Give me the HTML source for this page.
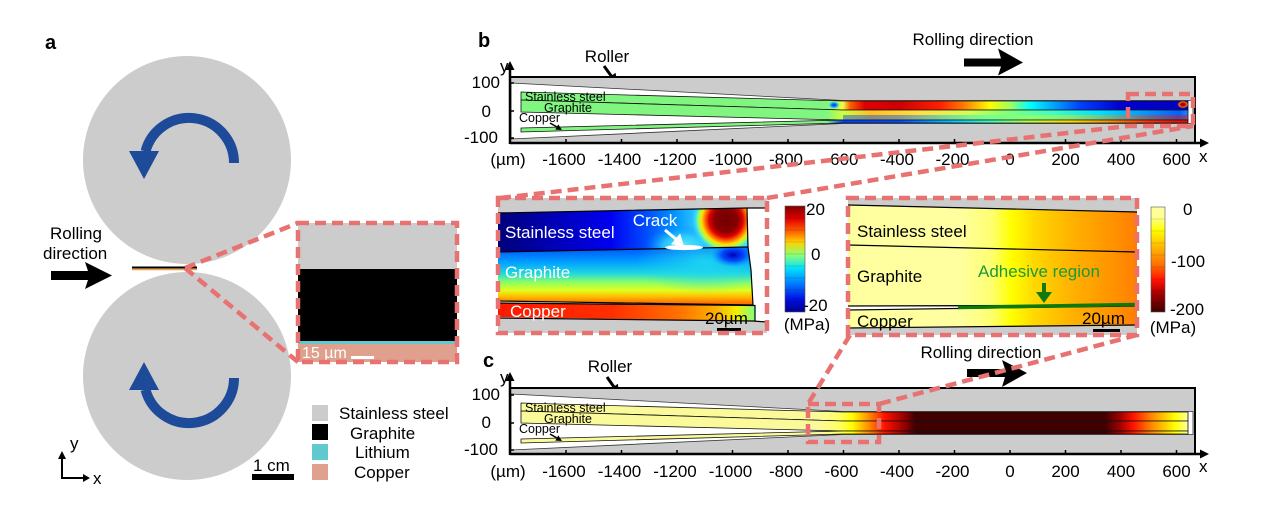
<!DOCTYPE html>
<html><head><meta charset="utf-8"><style>
html,body{margin:0;padding:0;background:#fff;}
svg{display:block;}
text{font-family:"Liberation Sans",Arial,sans-serif;fill:#000;}
</style></head><body>
<svg width="1268" height="525" viewBox="0 0 1268 525" xmlns="http://www.w3.org/2000/svg">
<defs>
  <linearGradient id="gSS" gradientUnits="userSpaceOnUse" x1="500" y1="0" x2="1200" y2="0">
    <stop offset="0" stop-color="#80f580"/><stop offset=".466" stop-color="#80f580"/>
    <stop offset=".49" stop-color="#f0ff40"/><stop offset=".5" stop-color="#ff6000"/>
    <stop offset=".521" stop-color="#e00000"/><stop offset=".571" stop-color="#d00000"/>
    <stop offset=".629" stop-color="#ff2000"/><stop offset=".664" stop-color="#ff8000"/>
    <stop offset=".7" stop-color="#ffff00"/><stop offset=".729" stop-color="#a0ff60"/>
    <stop offset=".757" stop-color="#00ffff"/><stop offset=".793" stop-color="#00a0ff"/>
    <stop offset=".829" stop-color="#0040ff"/><stop offset=".886" stop-color="#0000d0"/>
    <stop offset="1" stop-color="#0000c0"/>
  </linearGradient>
  <linearGradient id="gGr" gradientUnits="userSpaceOnUse" x1="500" y1="0" x2="1200" y2="0">
    <stop offset="0" stop-color="#80f580"/><stop offset=".466" stop-color="#80f580"/>
    <stop offset=".49" stop-color="#d0ff40"/><stop offset=".53" stop-color="#ffc020"/>
    <stop offset=".6" stop-color="#ffe040"/><stop offset=".671" stop-color="#d0ff50"/>
    <stop offset=".714" stop-color="#90ff70"/><stop offset=".786" stop-color="#40ffc0"/>
    <stop offset=".857" stop-color="#00e0ff"/><stop offset=".929" stop-color="#0090ff"/>
    <stop offset=".97" stop-color="#0060ff"/><stop offset="1" stop-color="#40c0ff"/>
  </linearGradient>
  <linearGradient id="gCu" gradientUnits="userSpaceOnUse" x1="500" y1="0" x2="1200" y2="0">
    <stop offset="0" stop-color="#80f580"/><stop offset=".466" stop-color="#80f580"/>
    <stop offset=".49" stop-color="#0040ff"/><stop offset=".571" stop-color="#0050ff"/>
    <stop offset=".643" stop-color="#00c0ff"/><stop offset=".7" stop-color="#40ffc0"/>
    <stop offset=".757" stop-color="#c0ff40"/><stop offset=".814" stop-color="#ffe000"/>
    <stop offset=".871" stop-color="#ff9000"/><stop offset=".929" stop-color="#ff3000"/>
    <stop offset="1" stop-color="#e00000"/>
  </linearGradient>
  <linearGradient id="gC" gradientUnits="userSpaceOnUse" x1="500" y1="0" x2="1200" y2="0">
    <stop offset="0" stop-color="#fafa9a"/><stop offset=".457" stop-color="#fafa9a"/>
    <stop offset=".486" stop-color="#ffff60"/><stop offset=".503" stop-color="#ffff00"/>
    <stop offset=".526" stop-color="#ff9000"/><stop offset=".55" stop-color="#ff1000"/>
    <stop offset=".579" stop-color="#900000"/><stop offset=".593" stop-color="#400000"/>
    <stop offset=".864" stop-color="#400000"/><stop offset=".886" stop-color="#a00000"/>
    <stop offset=".904" stop-color="#ff1000"/><stop offset=".929" stop-color="#ff8000"/>
    <stop offset=".964" stop-color="#ffff00"/><stop offset=".983" stop-color="#ffffa0"/>
    <stop offset="1" stop-color="#ffffa0"/>
  </linearGradient>
  <radialGradient id="rBlue" cx="0.5" cy="0.5" r="0.5">
    <stop offset="0" stop-color="#0020e0"/><stop offset=".5" stop-color="#00a0ff"/><stop offset="1" stop-color="#40e0ff" stop-opacity="0"/>
  </radialGradient>
  <radialGradient id="rRed" cx="0.5" cy="0.5" r="0.5">
    <stop offset="0" stop-color="#700000"/><stop offset=".4" stop-color="#d00000"/><stop offset=".7" stop-color="#ff8000"/><stop offset="1" stop-color="#0000c0" stop-opacity="0"/>
  </radialGradient>
  <!-- inset 1 -->
  <linearGradient id="i1SS" gradientUnits="userSpaceOnUse" x1="498" y1="0" x2="748" y2="0">
    <stop offset="0" stop-color="#00007a"/><stop offset=".2" stop-color="#0000b0"/>
    <stop offset=".45" stop-color="#0000f0"/><stop offset=".6" stop-color="#0050ff"/>
    <stop offset=".7" stop-color="#0090ff"/><stop offset=".8" stop-color="#30c8ff"/>
    <stop offset="1" stop-color="#50e0f0"/>
  </linearGradient>
  <radialGradient id="i1Blob" gradientUnits="userSpaceOnUse" cx="726" cy="220" r="34">
    <stop offset="0" stop-color="#700000"/><stop offset=".35" stop-color="#8a0000"/>
    <stop offset=".5" stop-color="#e00000"/><stop offset=".62" stop-color="#ff7000"/>
    <stop offset=".72" stop-color="#ffe000"/><stop offset=".82" stop-color="#90ff70"/>
    <stop offset=".92" stop-color="#30e0ff" stop-opacity=".7"/><stop offset="1" stop-color="#30e0ff" stop-opacity="0"/>
  </radialGradient>
  <radialGradient id="i1Cy" gradientUnits="userSpaceOnUse" cx="682" cy="246" r="38" gradientTransform="translate(682 246) scale(1 0.55) translate(-682 -246)">
    <stop offset="0" stop-color="#60f0f0"/><stop offset=".5" stop-color="#30d0ff" stop-opacity=".8"/><stop offset="1" stop-color="#0080ff" stop-opacity="0"/>
  </radialGradient>
  <radialGradient id="i1Dk" gradientUnits="userSpaceOnUse" cx="733" cy="255" r="22" gradientTransform="translate(733 255) scale(1 0.55) translate(-733 -255)">
    <stop offset="0" stop-color="#0000b0"/><stop offset=".5" stop-color="#0030ff" stop-opacity=".8"/><stop offset="1" stop-color="#0080ff" stop-opacity="0"/>
  </radialGradient>
  <linearGradient id="i1Gr" gradientUnits="userSpaceOnUse" x1="0" y1="252" x2="0" y2="303">
    <stop offset="0" stop-color="#0068ff"/><stop offset=".2" stop-color="#00a0ff"/>
    <stop offset=".42" stop-color="#20d8e0"/><stop offset=".6" stop-color="#90ff60"/>
    <stop offset=".75" stop-color="#e0ff20"/><stop offset=".87" stop-color="#ffc000"/>
    <stop offset="1" stop-color="#ff7000"/>
  </linearGradient>
  <radialGradient id="i1GrR" gradientUnits="userSpaceOnUse" cx="705" cy="262" r="70" gradientTransform="translate(705 262) scale(1 0.45) translate(-705 -262)">
    <stop offset="0" stop-color="#20d8f0" stop-opacity=".9"/><stop offset="1" stop-color="#20d8f0" stop-opacity="0"/>
  </radialGradient>
  <linearGradient id="i1Cu" gradientUnits="userSpaceOnUse" x1="498" y1="0" x2="755" y2="0">
    <stop offset="0" stop-color="#ff1800"/><stop offset=".45" stop-color="#ff3000"/>
    <stop offset=".7" stop-color="#ff7000"/><stop offset=".85" stop-color="#ffb000"/>
    <stop offset=".93" stop-color="#f0f000"/><stop offset="1" stop-color="#80ff80"/>
  </linearGradient>
  <linearGradient id="i2" gradientUnits="userSpaceOnUse" x1="848" y1="0" x2="1135" y2="0">
    <stop offset="0" stop-color="#ffffa0"/><stop offset=".39" stop-color="#ffffa0"/>
    <stop offset=".5" stop-color="#ffff70"/><stop offset=".57" stop-color="#ffff00"/>
    <stop offset=".65" stop-color="#ffd800"/><stop offset=".77" stop-color="#ffb400"/>
    <stop offset=".88" stop-color="#ff9c00"/><stop offset="1" stop-color="#ff8000"/>
  </linearGradient>
  <linearGradient id="cb1" x1="0" y1="0" x2="0" y2="1">
    <stop offset="0" stop-color="#800000"/><stop offset=".12" stop-color="#e00000"/>
    <stop offset=".24" stop-color="#ff6000"/><stop offset=".34" stop-color="#ffd000"/>
    <stop offset=".46" stop-color="#90ff70"/><stop offset=".59" stop-color="#00e0ff"/>
    <stop offset=".75" stop-color="#0070ff"/><stop offset=".88" stop-color="#0010e0"/>
    <stop offset="1" stop-color="#000090"/>
  </linearGradient>
  <linearGradient id="cb2" x1="0" y1="0" x2="0" y2="1">
    <stop offset="0" stop-color="#ffffa0"/><stop offset=".1" stop-color="#ffff90"/>
    <stop offset=".22" stop-color="#ffff00"/><stop offset=".4" stop-color="#ffb000"/>
    <stop offset=".55" stop-color="#ff7000"/><stop offset=".7" stop-color="#ff1000"/>
    <stop offset=".83" stop-color="#a00000"/><stop offset="1" stop-color="#400000"/>
  </linearGradient>
  <clipPath id="clip1"><rect x="498" y="198" width="269" height="135"/></clipPath>
  <clipPath id="clip2"><rect x="848" y="198" width="289" height="137"/></clipPath>
</defs>

<!-- ================= PANEL A ================= -->
<text x="45" y="49" font-size="20" font-weight="bold">a</text>
<circle cx="187" cy="160" r="104" fill="#cccccc"/>
<circle cx="187" cy="376" r="104" fill="#cccccc"/>
<path d="M234 163 A45 45 0 0 0 145.5 151.4" fill="none" stroke="#1e4a9a" stroke-width="10"/>
<polygon points="129,151 159,151 144,179" fill="#1e4a9a"/>
<path d="M234 378 A45 45 0 0 1 145.5 389.6" fill="none" stroke="#1e4a9a" stroke-width="10"/>
<polygon points="129,390 159,390 144,362" fill="#1e4a9a"/>
<text x="50" y="239" font-size="17">Rolling</text>
<text x="43" y="259" font-size="17">direction</text>
<polygon points="51,271 88,271 85,262 112,275.5 85,289 88,280 51,280" fill="#000"/>
<line x1="132" y1="267.5" x2="197" y2="267.5" stroke="#000" stroke-width="2"/>
<line x1="132" y1="269.5" x2="197" y2="269.5" stroke="#f0a040" stroke-width="1.5"/>
<!-- inset a -->
<rect x="298" y="223" width="159" height="46" fill="#cccccc"/>
<rect x="298" y="269" width="159" height="72" fill="#000"/>
<rect x="298" y="341" width="159" height="3" fill="#62c8d0"/>
<rect x="298" y="344" width="159" height="18" fill="#e0a08e"/>
<text x="302" y="358" font-size="16" fill="#fff" style="fill:#fff">15 µm</text>
<rect x="351" y="356" width="23" height="3" fill="#fff"/>
<g stroke="#e87272" stroke-width="4.5" stroke-dasharray="11 6" fill="none">
  <line x1="185" y1="268" x2="298" y2="223"/>
  <line x1="185" y1="268" x2="298" y2="362"/>
  <rect x="298" y="223" width="159" height="139"/>
</g>
<!-- legend -->
<rect x="312" y="405" width="16" height="16" fill="#cccccc"/>
<rect x="312" y="424" width="16" height="16" fill="#000"/>
<rect x="312" y="444" width="16" height="16" fill="#62c8d0"/>
<rect x="312" y="464" width="16" height="16" fill="#e0a08e"/>
<text x="339" y="419" font-size="17">Stainless steel</text>
<text x="350" y="439" font-size="17">Graphite</text>
<text x="355" y="458" font-size="17">Lithium</text>
<text x="354" y="478" font-size="17">Copper</text>
<text x="253" y="471" font-size="17">1 cm</text>
<rect x="252" y="474" width="42" height="6" fill="#000"/>
<!-- axes indicator -->
<line x1="62" y1="478" x2="62" y2="457" stroke="#000" stroke-width="2"/>
<polygon points="58,459 66,459 62,451" fill="#000"/>
<line x1="61" y1="478" x2="84" y2="478" stroke="#000" stroke-width="2"/>
<polygon points="83,474 83,482 90,478" fill="#000"/>
<text x="70" y="449" font-size="17">y</text>
<text x="93" y="484" font-size="17">x</text>

<!-- ================= PANEL B ================= -->
<text x="478" y="47" font-size="20" font-weight="bold">b</text>
<text x="607" y="62" font-size="17" text-anchor="middle">Roller</text>
<line x1="604" y1="66" x2="612" y2="77" stroke="#000" stroke-width="3"/>
<polygon points="617,83 615.6,72.8 607.6,78.8" fill="#000"/>
<text x="973" y="45" font-size="17" text-anchor="middle">Rolling direction</text>
<polygon points="964,58.5 1001,58.5 998,48.5 1023,62.5 998,75.5 1001,66.5 964,66.5" fill="#000"/>

<g id="stripB">
  <rect x="510" y="77" width="685" height="66" fill="#cccccc"/>
  <polygon points="511,83 843,100.5 1193,100.5 1193,123.5 843,123.5 511,139" fill="#fff" stroke="#333" stroke-width="0.8"/>
  <polygon points="521,92 843,101 1188,101 1188,110 843,110 521,100" fill="url(#gSS)" stroke="#111" stroke-width="0.8"/>
  <polygon points="521,100 843,110 1188,110 1188,120 843,120 521,112" fill="url(#gGr)" stroke="#111" stroke-width="0.8"/>
  <polygon points="843,115 1188,115 1188,120 843,120" fill="url(#gCu)" opacity="0.45"/>
  <polygon points="521,128 843,120 1188,120 1188,123 843,123 521,132" fill="url(#gCu)" stroke="#111" stroke-width="0.8"/>
  <ellipse cx="834" cy="105" rx="6" ry="4" fill="url(#rBlue)"/>
  <ellipse cx="1183" cy="104.5" rx="6" ry="4" fill="url(#rRed)"/>
</g>
<text x="525" y="101" font-size="12.5">Stainless steel</text>
<text x="544" y="112" font-size="12.5">Graphite</text>
<text x="519" y="122" font-size="12.5">Copper</text>
<line x1="550" y1="123" x2="557" y2="127" stroke="#000" stroke-width="1.5"/>
<polygon points="562,130 558.3,124.4 555.3,129.6" fill="#000"/>
<!-- frame & axes b -->
<polyline points="510,77 1195,77 1195,143" fill="none" stroke="#000" stroke-width="2"/>
<line x1="510" y1="143" x2="1202" y2="143" stroke="#000" stroke-width="2.5"/>
<polygon points="1200,138.5 1209,143 1200,147.5" fill="#000"/>
<line x1="510" y1="144" x2="510" y2="68" stroke="#000" stroke-width="2.5"/>
<polygon points="505.5,70 514.5,70 510,61" fill="#000"/>
<text x="500" y="72" font-size="17">y</text>
<text x="1199" y="162" font-size="17">x</text>
<g stroke="#000" stroke-width="1.5">
  <line x1="566" y1="143" x2="566" y2="139"/><line x1="621.5" y1="143" x2="621.5" y2="139"/>
  <line x1="677" y1="143" x2="677" y2="139"/><line x1="732.5" y1="143" x2="732.5" y2="139"/>
  <line x1="788" y1="143" x2="788" y2="139"/><line x1="843.5" y1="143" x2="843.5" y2="139"/>
  <line x1="899" y1="143" x2="899" y2="139"/><line x1="954.5" y1="143" x2="954.5" y2="139"/>
  <line x1="1010" y1="143" x2="1010" y2="139"/><line x1="1065.5" y1="143" x2="1065.5" y2="139"/>
  <line x1="1121" y1="143" x2="1121" y2="139"/><line x1="1176.5" y1="143" x2="1176.5" y2="139"/>
  <line x1="510" y1="83" x2="514" y2="83"/><line x1="510" y1="111" x2="514" y2="111"/><line x1="510" y1="138" x2="514" y2="138"/>
</g>
<g font-size="17">
  <text x="500" y="88" text-anchor="end">100</text>
  <text x="491" y="117" text-anchor="end">0</text>
  <text x="498" y="143" text-anchor="end">-100</text>
</g>
<g font-size="17" text-anchor="middle">
  <text x="508" y="165">(µm)</text>
  <text x="564" y="165">-1600</text><text x="619.5" y="165">-1400</text>
  <text x="675" y="165">-1200</text><text x="730.5" y="165">-1000</text>
  <text x="786" y="165">-800</text><text x="841.5" y="165">-600</text>
  <text x="897" y="165">-400</text><text x="952.5" y="165">-200</text>
  <text x="1010" y="165">0</text><text x="1065.5" y="165">200</text>
  <text x="1121" y="165">400</text><text x="1176.5" y="165">600</text>
</g>

<!-- ================= PANEL C ================= -->
<text x="483" y="367" font-size="20" font-weight="bold">c</text>
<text x="610" y="372" font-size="17" text-anchor="middle">Roller</text>
<line x1="607" y1="377" x2="614" y2="387" stroke="#000" stroke-width="3"/>
<polygon points="619,394 617.9,383.7 609.7,389.5" fill="#000"/>
<text x="981" y="358" font-size="17" text-anchor="middle">Rolling direction</text>
<polygon points="967,369 1005,369 1002,360 1027,373 1002,387 1005,377 967,377" fill="#000"/>

<g transform="translate(0,311)">
  <rect x="510" y="77" width="685" height="66" fill="#cccccc"/>
  <polygon points="511,83 843,100.5 1193,100.5 1193,123.5 843,123.5 511,139" fill="#fff" stroke="#333" stroke-width="0.8"/>
  <polygon points="521,92 843,101 1188,101 1188,110 843,110 521,100" fill="url(#gC)" stroke="#111" stroke-width="0.8"/>
  <polygon points="521,100 843,110 1188,110 1188,120 843,120 521,112" fill="url(#gC)" stroke="#111" stroke-width="0.8"/>
  <polygon points="521,128 843,120 1188,120 1188,123 843,123 521,132" fill="url(#gC)" stroke="#111" stroke-width="0.8"/>
  <text x="525" y="101" font-size="12.5">Stainless steel</text>
  <text x="544" y="112" font-size="12.5">Graphite</text>
  <text x="519" y="122" font-size="12.5">Copper</text>
  <line x1="550" y1="123" x2="557" y2="127" stroke="#000" stroke-width="1.5"/>
  <polygon points="562,130 558.3,124.4 555.3,129.6" fill="#000"/>
  <polyline points="510,77 1195,77 1195,143" fill="none" stroke="#000" stroke-width="2"/>
  <line x1="510" y1="143" x2="1202" y2="143" stroke="#000" stroke-width="2.5"/>
  <polygon points="1200,138.5 1209,143 1200,147.5" fill="#000"/>
  <line x1="510" y1="144" x2="510" y2="68" stroke="#000" stroke-width="2.5"/>
  <polygon points="505.5,70 514.5,70 510,61" fill="#000"/>
  <text x="500" y="72" font-size="17">y</text>
  <text x="1199" y="161" font-size="17">x</text>
  <g stroke="#000" stroke-width="1.5">
    <line x1="566" y1="143" x2="566" y2="139"/><line x1="621.5" y1="143" x2="621.5" y2="139"/>
    <line x1="677" y1="143" x2="677" y2="139"/><line x1="732.5" y1="143" x2="732.5" y2="139"/>
    <line x1="788" y1="143" x2="788" y2="139"/><line x1="843.5" y1="143" x2="843.5" y2="139"/>
    <line x1="899" y1="143" x2="899" y2="139"/><line x1="954.5" y1="143" x2="954.5" y2="139"/>
    <line x1="1010" y1="143" x2="1010" y2="139"/><line x1="1065.5" y1="143" x2="1065.5" y2="139"/>
    <line x1="1121" y1="143" x2="1121" y2="139"/><line x1="1176.5" y1="143" x2="1176.5" y2="139"/>
    <line x1="510" y1="84" x2="514" y2="84"/><line x1="510" y1="112" x2="514" y2="112"/><line x1="510" y1="139" x2="514" y2="139"/>
  </g>
  <g font-size="17">
    <text x="500" y="89" text-anchor="end">100</text>
    <text x="491" y="117" text-anchor="end">0</text>
    <text x="498" y="144" text-anchor="end">-100</text>
  </g>
  <g font-size="17" text-anchor="middle">
    <text x="508" y="166">(µm)</text>
    <text x="564" y="166">-1600</text><text x="619.5" y="166">-1400</text>
    <text x="675" y="166">-1200</text><text x="730.5" y="166">-1000</text>
    <text x="786" y="166">-800</text><text x="841.5" y="166">-600</text>
    <text x="897" y="166">-400</text><text x="952.5" y="166">-200</text>
    <text x="1010" y="166">0</text><text x="1065.5" y="166">200</text>
    <text x="1121" y="166">400</text><text x="1176.5" y="166">600</text>
  </g>
</g>

<!-- ================= INSET 1 ================= -->
<g clip-path="url(#clip1)">
  <rect x="498" y="198" width="269" height="135" fill="#fff"/>
  <polygon points="498,198 767,198 767,208 747,208 498,213" fill="#cccccc"/>
  <polygon points="498,318 753,321 767,322 767,333 498,333" fill="#cccccc"/>
  <polygon points="498,213 747,208 748,247 498,252" fill="url(#i1SS)"/>
  <polygon points="498,213 747,208 748,247 498,252" fill="url(#i1Cy)"/>
  <polygon points="498,213 747,208 748,247 498,252" fill="url(#i1Blob)"/>
  <polygon points="498,252 748,247 751,270 753,305 498,301" fill="url(#i1Gr)"/>
  <polygon points="498,252 748,247 751,270 753,305 498,301" fill="url(#i1GrR)"/>
  <polygon points="498,252 748,247 751,270 753,305 498,301" fill="url(#i1Dk)"/>
  <polygon points="498,303 755,305 755,321 498,317" fill="url(#i1Cu)"/>
  <g fill="none" stroke="#000" stroke-width="1.2">
    <polyline points="498,213 747,208 767,208"/>
    <polyline points="498,252 748,247"/>
    <polyline points="747,208 748,247 751,270 753,305"/>
    <polyline points="498,301 753,305"/>
    <polyline points="498,303 755,305.5 755,321"/>
    <polyline points="498,318 753,321 767,322"/>
  </g>
  <ellipse cx="684" cy="247.5" rx="19" ry="2.6" fill="#fff"/>
</g>
<g fill="#fff">
  <text x="505" y="238" font-size="17" style="fill:#fff">Stainless steel</text>
  <text x="505" y="278" font-size="17" style="fill:#fff">Graphite</text>
  <text x="510" y="317" font-size="17" style="fill:#fff">Copper</text>
  <text x="655" y="226" font-size="17" text-anchor="middle" style="fill:#fff">Crack</text>
</g>
<line x1="665" y1="230" x2="677" y2="240" stroke="#fff" stroke-width="3"/>
<polygon points="684,246 680.1,233.5 671.1,244.3" fill="#fff"/>
<text x="705" y="324" font-size="17">20µm</text>
<rect x="717" y="328" width="24" height="3" fill="#000"/>

<!-- colorbar 1 -->
<rect x="785" y="206" width="20" height="106" fill="url(#cb1)" stroke="#555" stroke-width="0.6"/>
<g stroke="#000" stroke-opacity="0.25" stroke-width="0.6">
  <line x1="785" y1="218" x2="805" y2="218"/><line x1="785" y1="230" x2="805" y2="230"/>
  <line x1="785" y1="242" x2="805" y2="242"/><line x1="785" y1="254" x2="805" y2="254"/>
  <line x1="785" y1="266" x2="805" y2="266"/><line x1="785" y1="278" x2="805" y2="278"/>
  <line x1="785" y1="290" x2="805" y2="290"/><line x1="785" y1="302" x2="805" y2="302"/>
</g>
<text x="806" y="215" font-size="17">20</text>
<text x="811" y="260" font-size="17">0</text>
<text x="803" y="311" font-size="17">-20</text>
<text x="807" y="330" font-size="17" text-anchor="middle">(MPa)</text>

<!-- ================= INSET 2 ================= -->
<g clip-path="url(#clip2)">
  <rect x="848" y="198" width="289" height="137" fill="#cccccc"/>
  <polygon points="848,205 1137,212 1137,252 848,245" fill="url(#i2)"/>
  <polygon points="848,245 1137,252 1137,305 848,306" fill="url(#i2)"/>
  <polygon points="848,306 958,307 958,309.5 848,310" fill="#fff"/>
  <polygon points="848,310 1137,306 1137,325 848,328" fill="url(#i2)"/>
  <g fill="none" stroke="#000" stroke-width="1.2">
    <line x1="848" y1="205" x2="1137" y2="212"/>
    <line x1="848" y1="245" x2="1137" y2="252"/>
    <line x1="848" y1="306" x2="1137" y2="305"/>
    <line x1="848" y1="310" x2="1137" y2="306"/>
    <line x1="848" y1="328" x2="1137" y2="325"/>
  </g>
  <line x1="958" y1="307.5" x2="1135" y2="304.5" stroke="#0a7a0a" stroke-width="3.5"/>
</g>
<text x="857" y="237" font-size="17">Stainless steel</text>
<text x="857" y="282" font-size="17">Graphite</text>
<text x="857" y="327" font-size="17">Copper</text>
<text x="978" y="277" font-size="17" style="fill:#1a9a3a">Adhesive region</text>
<line x1="1044" y1="283" x2="1044" y2="295" stroke="#107a10" stroke-width="4"/>
<polygon points="1036,292 1052,292 1044,303" fill="#107a10"/>
<text x="1082" y="324" font-size="17">20µm</text>
<rect x="1093" y="329" width="27" height="3" fill="#000"/>

<!-- colorbar 2 -->
<rect x="1151" y="207" width="14" height="105" fill="url(#cb2)" stroke="#555" stroke-width="0.6"/>
<g stroke="#000" stroke-opacity="0.2" stroke-width="0.6">
  <line x1="1151" y1="219" x2="1165" y2="219"/><line x1="1151" y1="231" x2="1165" y2="231"/>
  <line x1="1151" y1="243" x2="1165" y2="243"/><line x1="1151" y1="255" x2="1165" y2="255"/>
  <line x1="1151" y1="267" x2="1165" y2="267"/><line x1="1151" y1="279" x2="1165" y2="279"/>
  <line x1="1151" y1="291" x2="1165" y2="291"/><line x1="1151" y1="303" x2="1165" y2="303"/>
</g>
<text x="1183" y="215" font-size="17">0</text>
<text x="1171" y="267" font-size="17">-100</text>
<text x="1170" y="315" font-size="17">-200</text>
<text x="1173" y="333" font-size="17" text-anchor="middle">(MPa)</text>

<!-- ================= DASHED ZOOM MARKERS ================= -->
<g stroke="#e87272" stroke-width="4.5" stroke-dasharray="11 6" fill="none">
  <line x1="500" y1="198" x2="1128" y2="126"/>
  <line x1="767" y1="198" x2="1193" y2="126"/>
  <rect x="1128" y="94" width="65" height="32"/>
  <rect x="498" y="198" width="269" height="135"/>
  <rect x="848" y="198" width="289" height="137"/>
  <line x1="850" y1="335" x2="808" y2="404"/>
  <line x1="1137" y1="335" x2="879" y2="404"/>
  <rect x="808" y="404" width="71" height="38"/>
</g>
</svg>
</body></html>
